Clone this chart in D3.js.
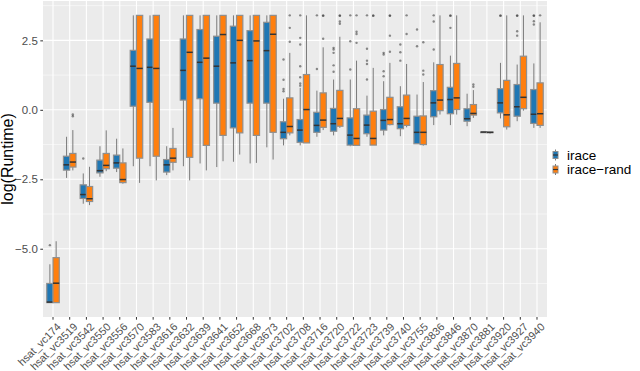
<!DOCTYPE html>
<html>
<head>
<meta charset="utf-8">
<script src="https://cdn.jsdelivr.net/npm/d3@7/dist/d3.min.js"></script>
<style>
  html, body { margin: 0; padding: 0; background: #ffffff; }
  svg { display: block; }
  text { font-family: "Liberation Sans", Arial, Helvetica, sans-serif; }
</style>
</head>
<body>
<svg id="chart" width="640" height="371"></svg>
<script>
// ---------------- data ----------------
const categories = ["hsat_vc174","hsat_vc3519","hsat_vc3542","hsat_vc3550","hsat_vc3556","hsat_vc3570",
  "hsat_vc3583","hsat_vc3616","hsat_vc3632","hsat_vc3639","hsat_vc3641","hsat_vc3652","hsat_vc3668",
  "hsat_vc3673","hsat_vc3702","hsat_vc3708","hsat_vc3716","hsat_vc3720","hsat_vc3722","hsat_vc3723",
  "hsat_vc3739","hsat_vc3740","hsat_vc3755","hsat_vc3836","hsat_vc3846","hsat_vc3870","hsat_vc3881",
  "hsat_vc3920","hsat_vc3927","hsat_vc3940"];
const seriesNames = ["irace", "irace\u2212rand"];
const seriesColors = ["#1f77b4", "#ff7f0e"];

// five-number summaries: [lower whisker, Q1, median, Q3, upper whisker]
const iraceStats = [
  [-6.94,-6.94,-6.92,-6.25,-5.56],[-2.45,-2.17,-1.98,-1.67,-0.97],[-3.38,-3.19,-3.05,-2.70,-2.29],
  [-2.41,-2.27,-2.19,-1.81,-1.31],[-2.24,-2.10,-1.91,-1.63,-1.04],[-2.03,0.13,1.57,2.14,3.40],
  [-2.03,0.27,1.53,2.55,3.40],[-2.35,-2.24,-1.98,-1.79,-1.31],[-2.03,0.35,1.42,2.55,3.40],
  [-1.93,0.40,1.71,2.89,3.40],[-2.06,0.24,1.57,2.65,3.40],[-1.87,-0.65,1.69,3.01,3.40],
  [-1.93,0.24,1.77,2.85,3.40],[-1.35,0.24,2.13,3.15,3.40],[-1.28,-1.04,-0.81,-0.43,0.40],
  [-1.28,-1.17,-0.73,-0.35,0.79],[-0.97,-0.81,-0.56,-0.09,0.69],[-0.92,-0.77,-0.50,0.05,1.09],
  [-1.31,-1.27,-0.91,-0.29,1.09],[-0.97,-0.86,-0.55,-0.19,0.51],[-0.92,-0.73,-0.38,0.01,1.03],
  [-0.95,-0.68,-0.50,0.11,0.85],[-1.22,-1.22,-0.81,-0.23,0.55],[-0.55,-0.25,0.25,0.69,1.71],
  [-0.55,-0.14,0.37,0.81,1.95],[-0.59,-0.41,-0.32,0.04,0.58],[-0.81,-0.81,-0.80,-0.80,-0.79],
  [-0.31,-0.11,0.25,0.76,1.69],[-0.41,-0.23,0.11,0.91,1.63],[-0.65,-0.49,-0.16,0.73,1.67]
];
const iraceOutliers = [
  [-4.87],[],[-1.75],[],[],[],[],[],[],[],[],[],[],[],
  [1.81,1.08,0.75,0.67],[3.40,2.59,2.35,1.57,1.17,0.95,0.87],[3.40,1.47],[2.23,2.17,2.05,1.60,1.37],
  [3.40,2.47,1.45],[3.40,2.20,1.77,1.65,1.09],[2.05,1.99,1.39,1.21],[2.35,2.07,1.77],[2.89,2.29],
  [3.40,3.18,2.17],[3.40,3.38,2.95],[],[],[3.40,3.38],[3.40,3.38,2.83,2.67],[3.40,3.38,3.19,3.07]
];
const iraceRandStats = [
  [-6.94,-6.94,-6.24,-5.32,-4.73],[-2.18,-2.06,-1.88,-1.57,-0.73],[-3.43,-3.30,-3.20,-2.76,-2.05],
  [-2.21,-2.12,-2.00,-1.57,-0.74],[-2.66,-2.62,-2.51,-1.91,-1.39],[-2.63,-1.74,1.49,3.40,3.40],
  [-2.54,-1.67,1.49,3.40,3.40],[-2.18,-1.89,-1.74,-1.39,-0.65],[-2.54,-1.71,2.07,3.40,3.40],
  [-2.18,-1.28,1.86,3.40,3.40],[-1.85,-0.92,2.71,3.40,3.40],[-1.61,-0.83,2.50,3.40,3.40],
  [-1.91,-0.92,2.48,3.40,3.40],[-1.79,-0.81,2.72,3.40,3.40],[-0.92,-0.83,-0.60,0.43,2.05],
  [-1.19,-1.19,0.01,1.27,3.40],[-0.73,-0.63,-0.37,0.61,2.25],[-0.65,-0.59,-0.31,0.70,2.63],
  [-1.28,-1.28,-1.03,0.04,1.77],[-1.27,-1.27,-1.03,-0.05,1.51],[-0.56,-0.53,-0.35,0.45,1.69],
  [-0.63,-0.56,-0.31,0.53,1.65],[-1.29,-1.25,-0.81,-0.22,1.00],[-0.17,-0.03,0.35,1.63,3.40],
  [-0.17,0.01,0.43,1.67,3.40],[-0.29,-0.19,-0.13,0.19,0.71],[-0.86,-0.82,-0.81,-0.80,-0.80],
  [-0.71,-0.61,-0.18,1.06,3.40],[-0.03,0.04,0.45,1.93,3.40],[-0.65,-0.56,-0.14,0.97,3.15]
];
const iraceRandOutliers = [
  [],[-0.17,-0.23],[],[],[],[],[],[],[],[],[],[],[],[],
  [3.40,2.95,2.45],[],[3.40,3.38,2.56],[3.40,3.38,3.18,3.10],[3.40,2.81,2.73,2.41],[3.40,3.38],
  [3.40,3.38,2.67,2.09],[3.40,2.73],[2.43,1.41,1.27],[],[],[0.91,0.83],[],[],[],[3.40]
];
const yTicks = [-5, -2.5, 0, 2.5];
const yMinorTicks = [-6.25, -3.75, -1.25, 1.25, 3.75];
const yTitle = "log(Runtime)";

// ---------------- layout ----------------
const panel = { left: 43, right: 547, top: 1, bottom: 317 };
const svg = d3.select("#chart");

const series = [
  { name: seriesNames[0], color: seriesColors[0], stats: iraceStats, outliers: iraceOutliers },
  { name: seriesNames[1], color: seriesColors[1], stats: iraceRandStats, outliers: iraceRandOutliers }
];

// y domain: data range expanded by 5% (ggplot default)
const allVals = [];
series.forEach(s => { s.stats.forEach(r => allVals.push(...r)); s.outliers.forEach(o => allVals.push(...o)); });
const [vmin, vmax] = d3.extent(allVals);
const pad = (vmax - vmin) * 0.05;
const y = d3.scaleLinear().domain([vmin - pad, vmax + pad]).range([panel.bottom, panel.top]);

const x = d3.scaleBand().domain(categories).range([panel.left, panel.right])
  .paddingInner(0).paddingOuter(0.1);
const xs = d3.scaleBand().domain(seriesNames).range([0, x.bandwidth()])
  .paddingInner(0).paddingOuter(1/3);

// panel background
svg.append("rect").attr("x", panel.left).attr("y", panel.top)
  .attr("width", panel.right - panel.left).attr("height", panel.bottom - panel.top)
  .attr("fill", "#ebebeb");

const grid = svg.append("g");
grid.selectAll("line.minor").data(yMinorTicks).join("line")
  .attr("x1", panel.left).attr("x2", panel.right)
  .attr("y1", d => y(d)).attr("y2", d => y(d))
  .attr("stroke", "#ffffff").attr("stroke-width", 0.55);
grid.selectAll("line.majory").data(yTicks).join("line")
  .attr("x1", panel.left).attr("x2", panel.right)
  .attr("y1", d => y(d)).attr("y2", d => y(d))
  .attr("stroke", "#ffffff").attr("stroke-width", 1.1);
grid.selectAll("line.majorx").data(categories).join("line")
  .attr("x1", d => x(d) + x.bandwidth()/2).attr("x2", d => x(d) + x.bandwidth()/2)
  .attr("y1", panel.top).attr("y2", panel.bottom)
  .attr("stroke", "#ffffff").attr("stroke-width", 1.1);

// boxes
const marks = svg.append("g");
series.forEach(s => {
  const g = marks.append("g");
  const bw = xs.bandwidth();
  categories.forEach((c, i) => {
    const st = s.stats[i];
    const x0 = x(c) + xs(s.name);
    const cx = x0 + bw/2;
    g.append("line").attr("x1", cx).attr("x2", cx).attr("y1", y(st[3])).attr("y2", y(st[4]))
      .attr("stroke", "#7a7a7a").attr("stroke-width", 1);
    g.append("line").attr("x1", cx).attr("x2", cx).attr("y1", y(st[1])).attr("y2", y(st[0]))
      .attr("stroke", "#7a7a7a").attr("stroke-width", 1);
    g.append("rect").attr("x", x0).attr("width", bw)
      .attr("y", y(st[3])).attr("height", Math.max(0.6, y(st[1]) - y(st[3])))
      .attr("fill", s.color).attr("stroke", "#8f8f8f").attr("stroke-width", 1.2);
    g.append("line").attr("x1", x0).attr("x2", x0 + bw).attr("y1", y(st[2])).attr("y2", y(st[2]))
      .attr("stroke", "#333333").attr("stroke-width", 1.5);
    g.selectAll(null).data(s.outliers[i]).join("circle")
      .attr("cx", cx).attr("cy", d => y(d)).attr("r", 1.2)
      .attr("fill", "#333333").attr("fill-opacity", 0.55);
  });
});

// y axis
const yAxis = svg.append("g").attr("transform", `translate(${panel.left},0)`)
  .call(d3.axisLeft(y).tickValues(yTicks).tickFormat(d3.format(".1f")).tickSize(2.7).tickPadding(2.5));
yAxis.select(".domain").remove();
yAxis.selectAll(".tick line").attr("stroke", "#333333");
yAxis.selectAll(".tick text").attr("fill", "#4d4d4d").style("font-size", "11.5px")
  .style("font-family", "Liberation Sans, Arial, sans-serif");

// x axis
const xAxis = svg.append("g").attr("transform", `translate(0,${panel.bottom})`)
  .call(d3.axisBottom(x).tickSize(2.7).tickFormat(""));
xAxis.select(".domain").remove();
xAxis.selectAll(".tick line").attr("stroke", "#333333");
svg.append("g").selectAll("text").data(categories).join("text")
  .attr("transform", d => `translate(${x(d) + x.bandwidth()/2 + 3},${panel.bottom + 5}) rotate(-45)`)
  .attr("text-anchor", "end").attr("dy", "0.72em")
  .attr("fill", "#4d4d4d").style("font-size", "10.8px")
  .text(d => d);

// y title
svg.append("text")
  .attr("transform", `translate(13,${(panel.top + panel.bottom)/2}) rotate(-90)`)
  .attr("text-anchor", "middle").attr("fill", "#000000").style("font-size", "16px")
  .text(yTitle);

// legend
const leg = svg.append("g");
series.forEach((s, i) => {
  const cy = 155 + i * 14.5;
  const kx = 555.5;
  leg.append("line").attr("x1", kx).attr("x2", kx).attr("y1", cy - 5.5).attr("y2", cy + 5.5)
    .attr("stroke", "#7a7a7a").attr("stroke-width", 1);
  leg.append("rect").attr("x", kx - 2.5).attr("y", cy - 3.5).attr("width", 5).attr("height", 7)
    .attr("fill", s.color).attr("stroke", "#8f8f8f").attr("stroke-width", 1);
  leg.append("line").attr("x1", kx - 2.5).attr("x2", kx + 2.5).attr("y1", cy).attr("y2", cy)
    .attr("stroke", "#333333").attr("stroke-width", 1.2);
  leg.append("text").attr("x", 567).attr("y", cy + 4.6)
    .attr("fill", "#000000").style("font-size", "13.5px").text(s.name);
});
</script>
</body>
</html>
